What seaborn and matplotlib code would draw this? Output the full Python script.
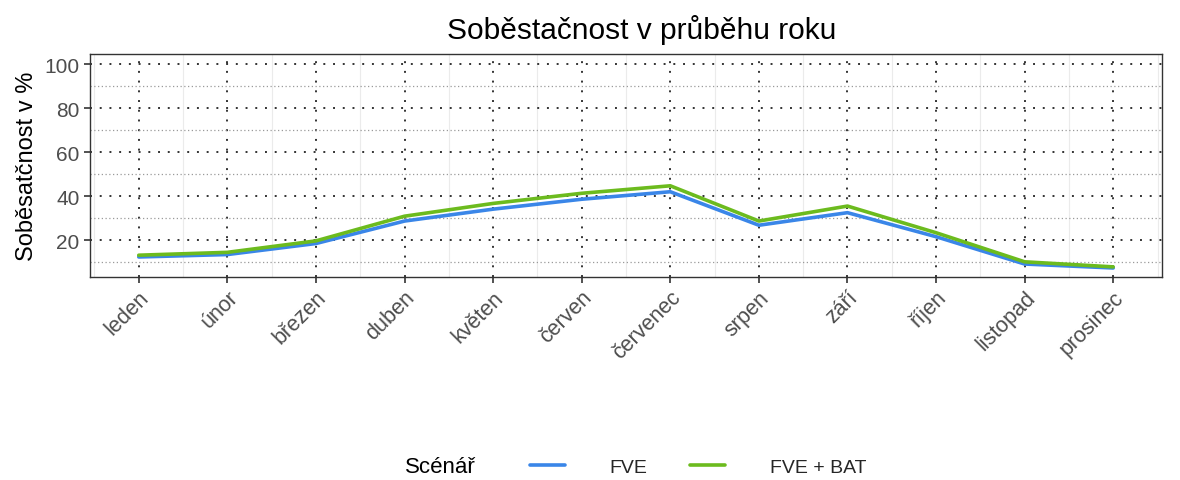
import numpy as np
import pandas as pd
import matplotlib
matplotlib.use("Agg")
import matplotlib.pyplot as plt
from matplotlib.ticker import MultipleLocator
import seaborn as sns

# data
mesice = ["leden", "únor", "březen", "duben", "květen", "červen",
          "červenec", "srpen", "září", "říjen", "listopad", "prosinec"]
fve = [12.5, 13.6, 18.6, 28.8, 34.2, 38.7, 42.1, 26.9, 32.6, 21.7, 9.3, 7.5]
fve_bat = [13.3, 14.6, 19.8, 31.0, 36.8, 41.4, 44.8, 28.8, 35.6, 23.5, 10.3, 8.0]
scenare = ["FVE", "FVE + BAT"]
barvy = ["#3a86e8", "#6cbb1e"]

df = pd.DataFrame({
    "mesic": mesice * 2,
    "hodnota": fve + fve_bat,
    "scenar": [scenare[0]] * 12 + [scenare[1]] * 12,
})
df["pos"] = np.tile(np.arange(len(mesice)), 2)

sns.set_theme(style="white")
plt.rcParams["font.family"] = ["Liberation Sans", "DejaVu Sans"]

fig = plt.figure(figsize=(11.8, 4.81), dpi=100)
ax = fig.add_axes([0.0763, 0.422, 0.9084, 0.4636])

sns.lineplot(data=df, x="pos", y="hodnota", hue="scenar",
             palette=dict(zip(scenare, barvy)), linewidth=2.6, sort=False, ax=ax)

x = np.arange(len(mesice))
ax.set_xlim(-0.55, len(mesice) - 1 + 0.55)
ax.set_ylim(3.4, 104.6)
ax.set_xticks(x)
ax.set_xticklabels(mesice)
ax.set_yticks([20, 40, 60, 80, 100])

# grid: light minor lines, dotted major lines on top
ax.xaxis.set_minor_locator(MultipleLocator(1, offset=0.5))
ax.yaxis.set_minor_locator(MultipleLocator(20, offset=10))
ax.grid(which="minor", axis="x", color="#ebebeb", linewidth=0.8, linestyle="-")
ax.grid(which="minor", axis="y", color="#9a9a9a", linewidth=0.9, linestyle=(0, (1, 2)))
ax.grid(which="major", color="#333333", linewidth=1.4, linestyle=(0, (1, 4)))
ax.set_axisbelow(True)

for s in ax.spines.values():
    s.set_color("#333333")
    s.set_linewidth(1.0)

ax.tick_params(axis="both", which="major", length=4, width=1.2, color="#333333",
               labelsize=15, labelcolor="#4d4d4d", bottom=True, left=True)
ax.tick_params(axis="x", which="major", labelsize=15.5, pad=3)
ax.tick_params(axis="both", which="minor", length=0)
plt.setp(ax.get_xticklabels(), rotation=45, ha="right", va="top", rotation_mode="anchor")

ax.set_xlabel("")
ax.set_ylabel("Soběsatčnost v %", fontsize=17, color="black", labelpad=5)
fig.text(642 / 1180, 1 - 30 / 481, "Soběstačnost v průběhu roku",
         ha="center", va="center", fontsize=21.5, color="black")

handles, labels = ax.get_legend_handles_labels()
ax.get_legend().remove()
fig.text(440 / 1180, 1 - 468 / 481, "Scénář", ha="center", va="center", fontsize=16, color="black")
leg = fig.legend(handles, labels, loc="center left", bbox_to_anchor=(530 / 1180, 1 - 468 / 481),
                 ncol=2, frameon=False, fontsize=14, handlelength=1.8,
                 handletextpad=2.3, columnspacing=2.2, borderaxespad=0, borderpad=0)

fig.savefig("out.png", dpi=100)
